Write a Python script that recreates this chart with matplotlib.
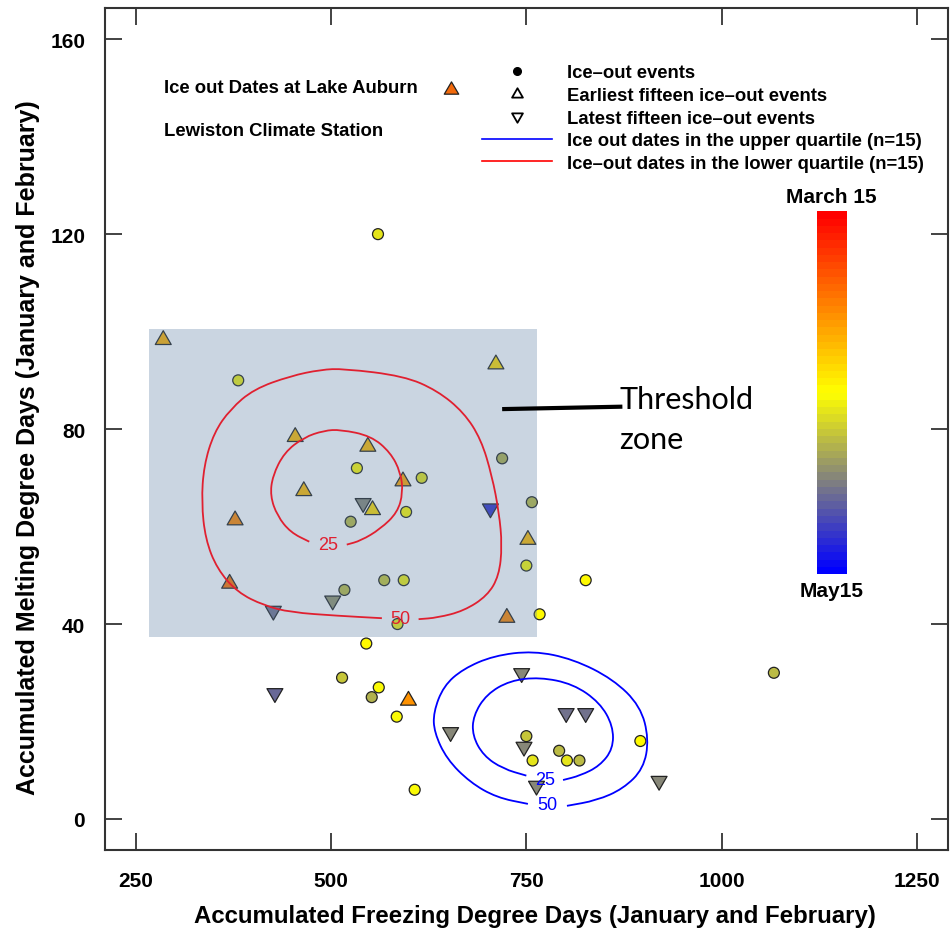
import matplotlib
matplotlib.use("Agg")
import matplotlib.pyplot as plt
import numpy as np
from matplotlib.colors import LinearSegmentedColormap, Normalize
from matplotlib.cm import ScalarMappable
from matplotlib.lines import Line2D
from matplotlib.patches import Rectangle, PathPatch
from matplotlib.path import Path

plt.rcParams["font.family"] = "Liberation Sans"

# ice-out events (all years): freezing DD, melting DD, ice-out day of year
circ_fdd = [381, 533, 616, 596, 525, 719, 757, 750, 568, 593, 517, 585, 767, 545,
            826, 560, 514, 561, 552, 584, 607, 750, 758, 792, 802, 818, 896, 1067]
circ_mdd = [90, 72, 70, 63, 61, 74, 65, 52, 49, 49, 47, 40, 42, 36,
            49, 120, 29, 27, 25, 21, 6, 17, 12, 14, 12, 12, 16, 30]
circ_doy = [106, 104, 107, 104, 112, 114, 112, 105, 111, 106, 112, 106, 104, 104,
            104, 107, 111, 105, 114, 105, 105, 111, 108, 113, 107, 113, 104, 113]

# earliest fifteen ice-out events
early_fdd = [285, 711, 454, 547, 592, 465, 553, 377, 370, 752, 725, 599]
early_mdd = [98.3, 93.3, 78.4, 76.4, 69.3, 67.3, 63.4, 61.3, 48.3, 57.3, 41.3, 24.3]
early_doy = [95, 100, 96, 97, 94, 96, 100, 91, 88, 96, 91, 92]

# latest fifteen ice-out events
late_fdd = [541, 704, 502, 426, 428, 744, 653, 801, 826, 747, 763, 920]
late_mdd = [64.8, 63.7, 44.8, 42.7, 25.8, 29.9, 17.8, 21.7, 21.7, 14.8, 6.8, 7.8]
late_doy = [119, 128, 117, 121, 122, 118, 119, 121, 121, 118, 119, 119]

# density contours (lower quartile = red, upper = blue)
red50_x = [565, 508, 448, 414, 380, 354, 339, 334, 337, 350, 371, 401, 448, 487,
           516, 593, 636, 670, 692, 706, 715, 719, 715, 700, 670, 636, 612]
red50_y = [41.2, 41.7, 42.4, 43.8, 46.5, 51.3, 57.4, 65.0, 72.5, 79.3, 84.1, 88.2,
           90.9, 92.2, 92.4, 90.9, 87.9, 83.4, 77.9, 70.4, 62.9, 56.1, 49.9, 45.8,
           42.7, 41.3, 41.0]
red25_x = [472, 448, 431, 422, 425, 440, 465, 491, 512, 551, 576, 589, 592, 585,
           563, 538, 520]
red25_y = [56.9, 58.8, 62.2, 66.3, 70.4, 75.2, 78.3, 79.7, 79.9, 78.6, 75.2, 71.1,
           67.0, 62.9, 59.5, 57.1, 56.3]
blue50_x = [802, 840, 874, 900, 907, 896, 861, 810, 759, 708, 669, 644, 631, 632,
            648, 678, 712, 752]
blue50_y = [2.7, 3.8, 6.2, 10.3, 16.4, 23.2, 28.7, 32.8, 34.5, 33.5, 30.8, 27.3,
            21.9, 17.8, 12.3, 7.5, 4.4, 3.1]
blue25_x = [797, 819, 844, 861, 861, 844, 810, 767, 729, 699, 682, 681, 695, 720, 750]
blue25_y = [8.0, 8.9, 10.9, 14.4, 19.1, 23.9, 27.7, 29.1, 28.4, 25.6, 21.2, 17.1,
            13.0, 10.3, 8.9]
contour_labels = [("25", 496, 56.4, "#e02030"), ("50", 589, 41.2, "#e02030"),
                  ("25", 774, 8.1, "#0000ff"), ("50", 777, 2.9, "#0000ff")]

# threshold zone box and pointer
zone_x = (266.7, 763.6)
zone_y = (37.4, 100.5)
pointer_x = [719, 873]
pointer_y = [84.1, 84.6]

x_ticks = [250, 500, 750, 1000, 1250]
y_ticks = [0, 40, 80, 120, 160]

cmap = LinearSegmentedColormap.from_list("iceout", ["blue", "yellow", "red"], N=50)


def col(doy):
    return cmap((135 - np.asarray(doy)) / 61.0)


def smooth_line(xs, ys):
    # quadratic bezier through the read vertices (open path, ends kept)
    p = np.column_stack([xs, ys]).astype(float)
    mids = (p[:-1] + p[1:]) / 2
    verts = [p[0], mids[0]]
    codes = [Path.MOVETO, Path.LINETO]
    for i in range(1, len(p) - 1):
        verts += [p[i], mids[i]]
        codes += [Path.CURVE3, Path.CURVE3]
    verts.append(p[-1])
    codes.append(Path.LINETO)
    return Path(verts, codes)


def tri(up=True):
    s = 1 if up else -1
    return Path([(-1, -0.577 * s), (1, -0.577 * s), (0, 1.155 * s), (-1, -0.577 * s)],
                [Path.MOVETO, Path.LINETO, Path.LINETO, Path.CLOSEPOLY])


tri_up, tri_dn = tri(True), tri(False)
# legend key drawn a little below its text line
tri_key = Path([(-1, -1.2), (1, -1.2), (0, 0.5), (-1, -1.2)],
               [Path.MOVETO, Path.LINETO, Path.LINETO, Path.CLOSEPOLY])

fig = plt.figure(figsize=(9.5, 9.37), dpi=100)
ax = fig.add_axes([0.1102, 0.0921, 0.8877, 0.8983])

ax.scatter(circ_fdd, circ_mdd, s=62, c=col(circ_doy), edgecolors="#222222",
           linewidths=0.9, zorder=3)
ax.scatter(early_fdd, early_mdd, s=175, marker=tri_up, c=col(early_doy),
           edgecolors="#222222", linewidths=0.9, zorder=3)
ax.scatter(late_fdd, late_mdd, s=175, marker=tri_dn, c=col(late_doy),
           edgecolors="#222222", linewidths=0.9, zorder=3)

ax.add_patch(Rectangle((zone_x[0], zone_y[0]), zone_x[1] - zone_x[0],
                       zone_y[1] - zone_y[0], facecolor=(0.37, 0.51, 0.65),
                       alpha=0.33, edgecolor="none", zorder=4))

for xs, ys, c in [(red50_x, red50_y, "#e02030"), (red25_x, red25_y, "#e02030"),
                  (blue50_x, blue50_y, "#0000ff"), (blue25_x, blue25_y, "#0000ff")]:
    ax.add_patch(PathPatch(smooth_line(xs, ys), facecolor="none", edgecolor=c,
                           lw=1.3, zorder=5))
for txt, lx, ly, c in contour_labels:
    ax.text(lx, ly, txt, color=c, fontsize=13, ha="center", va="center", zorder=5)

ax.plot(pointer_x, pointer_y, color="black", lw=3, solid_capstyle="butt", zorder=6)
ax.text(pointer_x[1] - 4, pointer_y[1] - 2.5, "Threshold\nzone", family="Lato",
        fontsize=22, ha="left", va="center", linespacing=1.5, zorder=6)

ax.set_xlim(210, 1290)
ax.set_ylim(-6.3, 166.4)
ax.set_xticks(x_ticks)
ax.set_yticks(y_ticks)
ax.tick_params(direction="in", length=12, width=1.2, top=True, right=True,
               labelsize=15, color="#222222")
ax.tick_params(axis="x", pad=15)
ax.tick_params(axis="y", pad=14)
for lab in ax.get_xticklabels() + ax.get_yticklabels():
    lab.set_fontweight("bold")
for sp in ax.spines.values():
    sp.set_linewidth(1.5)
    sp.set_color("#333333")

ax.set_xlabel("Accumulated Freezing Degree Days (January and February)",
              fontsize=17.3, fontweight="bold")
ax.set_ylabel("Accumulated Melting Degree Days (January and February)",
              fontsize=18, fontweight="bold")
ax.xaxis.set_label_coords(0.5105, -0.064)
ax.yaxis.set_label_coords(-0.077, 0.479)

# legends
handles = [
    Line2D([], [], ls="none", marker="o", ms=5.5, color="black"),
    Line2D([], [], ls="none", marker=tri_up, ms=9, mfc="white", mec="black", mew=1.3),
    Line2D([], [], ls="none", marker=tri_dn, ms=9, mfc="white", mec="black", mew=1.3),
    Line2D([], [], color="#0000ff", lw=1.2),
    Line2D([], [], color="#ff0000", lw=1.2),
]
labels = ["Ice\u2013out events", "Earliest fifteen ice\u2013out events",
          "Latest fifteen ice\u2013out events",
          "Ice out dates in the upper quartile (n=15)",
          "Ice\u2013out dates in the lower quartile (n=15)"]
leg = ax.legend(handles, labels, loc="upper left", bbox_to_anchor=(0.4474, 0.9329),
                frameon=False, borderpad=0, borderaxespad=0, handlelength=3.8,
                handletextpad=0.8, labelspacing=0.3, prop={"weight": "bold", "size": 13.3})
ax.add_artist(leg)

ax.legend([Line2D([], [], ls="none", marker=tri_key, ms=12.5, mfc="#f26a0c",
                  mec="#222222", mew=0.9)],
          ["Ice out Dates at Lake Auburn"], loc="upper left",
          bbox_to_anchor=(0.0705, 0.9162), frameon=False, borderpad=0,
          borderaxespad=0, markerfirst=False, handlelength=1.0,
          handletextpad=1.3, prop={"weight": "bold", "size": 13.3})
ax.text(0.0705, 0.855, "Lewiston Climate Station", transform=ax.transAxes,
        fontsize=13.3, fontweight="bold", ha="left", va="center")

# colour bar
cax = fig.add_axes([0.8597, 0.3863, 0.0316, 0.3871])
cb = fig.colorbar(ScalarMappable(norm=Normalize(74, 135), cmap=cmap.reversed()), cax=cax)
cax.invert_yaxis()
cb.outline.set_visible(False)
cb.set_ticks([])
cax.text(0.5, 1.015, "March 15", transform=cax.transAxes, ha="center", va="bottom",
         fontsize=15, fontweight="bold")
cax.text(0.5, -0.02, "May15", transform=cax.transAxes, ha="center", va="top",
         fontsize=15, fontweight="bold")

fig.savefig("out.png", dpi=100)
